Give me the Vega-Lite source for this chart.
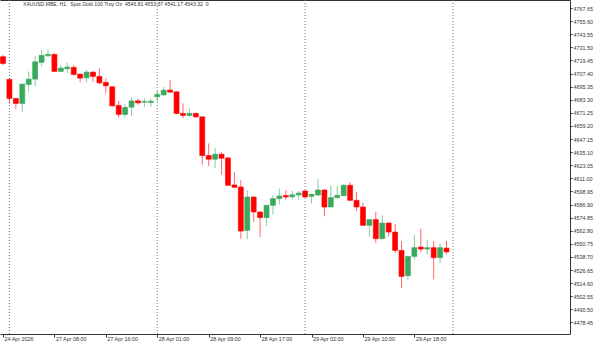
{
  "$schema": "https://vega.github.io/schema/vega-lite/v6.json",
  "width": 570,
  "height": 334,
  "autosize": {"type": "none"},
  "padding": {"left": 0, "top": 0, "right": 30, "bottom": 10},
  "background": "white",
  "config": {
    "view": {"stroke": null},
    "font": "Liberation Sans",
    "axis": {"domainColor": "#333", "tickColor": "#333", "labelColor": "#333", "labelFontSize": 5.4, "grid": false, "title": null, "labelOverlap": false, "labelFlush": false, "labelBound": false}
  },
  "title": {
    "text": "XAUUSD.MBE, H1:\u00a0\u00a0Spot Gold 100 Troy Oz\u00a0\u00a04546.81 4553.37 4541.17 4543.32\u00a0\u00a00",
    "anchor": "start",
    "frame": "group",
    "offset": -8,
    "dx": 23,
    "fontSize": 5.1,
    "fontWeight": "normal",
    "color": "#333",
    "font": "Liberation Sans"
  },
  "datasets": {
    "days": [{"i": 0}, {"i": 23}, {"i": 46}, {"i": 69}],
    "candles": [
      {"i": -1, "t": "24 Apr 23:00", "o": 4722.79, "h": 4724.35, "l": 4715.14, "c": 4716.71},
      {"i": 0, "t": "27 Apr 01:00", "o": 4701.97, "h": 4702.70, "l": 4679.86, "c": 4684.46},
      {"i": 1, "t": "27 Apr 02:00", "o": 4684.46, "h": 4684.74, "l": 4674.61, "c": 4679.86},
      {"i": 2, "t": "27 Apr 03:00", "o": 4679.86, "h": 4698.10, "l": 4672.12, "c": 4697.64},
      {"i": 3, "t": "27 Apr 04:00", "o": 4697.36, "h": 4709.34, "l": 4690.54, "c": 4702.24},
      {"i": 4, "t": "27 Apr 05:00", "o": 4702.24, "h": 4723.43, "l": 4695.79, "c": 4718.18},
      {"i": 5, "t": "27 Apr 06:00", "o": 4717.63, "h": 4728.96, "l": 4714.22, "c": 4724.08},
      {"i": 6, "t": "27 Apr 07:00", "o": 4723.71, "h": 4729.88, "l": 4722.79, "c": 4725.00},
      {"i": 7, "t": "27 Apr 08:00", "o": 4725.00, "h": 4725.73, "l": 4708.69, "c": 4709.34},
      {"i": 8, "t": "27 Apr 09:00", "o": 4709.34, "h": 4715.14, "l": 4708.69, "c": 4712.38},
      {"i": 9, "t": "27 Apr 10:00", "o": 4711.73, "h": 4717.63, "l": 4708.05, "c": 4713.30},
      {"i": 10, "t": "27 Apr 11:00", "o": 4713.02, "h": 4714.86, "l": 4705.28, "c": 4706.57},
      {"i": 11, "t": "27 Apr 12:00", "o": 4706.85, "h": 4707.31, "l": 4699.20, "c": 4703.16},
      {"i": 12, "t": "27 Apr 13:00", "o": 4703.44, "h": 4710.53, "l": 4699.20, "c": 4708.69},
      {"i": 13, "t": "27 Apr 14:00", "o": 4708.69, "h": 4709.34, "l": 4699.75, "c": 4704.73},
      {"i": 14, "t": "27 Apr 15:00", "o": 4704.73, "h": 4712.38, "l": 4697.36, "c": 4698.84},
      {"i": 15, "t": "27 Apr 16:00", "o": 4699.20, "h": 4702.89, "l": 4689.07, "c": 4696.07},
      {"i": 16, "t": "27 Apr 17:00", "o": 4695.15, "h": 4695.79, "l": 4677.10, "c": 4677.65},
      {"i": 17, "t": "27 Apr 18:00", "o": 4678.02, "h": 4682.25, "l": 4666.96, "c": 4669.73},
      {"i": 18, "t": "27 Apr 19:00", "o": 4669.73, "h": 4679.21, "l": 4666.96, "c": 4676.17},
      {"i": 19, "t": "27 Apr 20:00", "o": 4676.45, "h": 4685.94, "l": 4668.16, "c": 4682.25},
      {"i": 20, "t": "27 Apr 21:00", "o": 4682.25, "h": 4684.28, "l": 4678.57, "c": 4680.41},
      {"i": 21, "t": "27 Apr 22:00", "o": 4681.05, "h": 4684.46, "l": 4676.73, "c": 4681.70},
      {"i": 22, "t": "27 Apr 23:00", "o": 4680.78, "h": 4684.46, "l": 4676.73, "c": 4681.98},
      {"i": 23, "t": "28 Apr 01:00", "o": 4685.94, "h": 4691.37, "l": 4681.98, "c": 4688.15},
      {"i": 24, "t": "28 Apr 02:00", "o": 4687.69, "h": 4695.06, "l": 4686.86, "c": 4692.11},
      {"i": 25, "t": "28 Apr 03:00", "o": 4692.11, "h": 4701.32, "l": 4689.62, "c": 4690.27},
      {"i": 26, "t": "28 Apr 04:00", "o": 4690.54, "h": 4691.19, "l": 4670.00, "c": 4670.64},
      {"i": 27, "t": "28 Apr 05:00", "o": 4670.64, "h": 4679.86, "l": 4666.31, "c": 4668.89},
      {"i": 28, "t": "28 Apr 06:00", "o": 4668.80, "h": 4675.25, "l": 4667.70, "c": 4670.73},
      {"i": 29, "t": "28 Apr 07:00", "o": 4670.73, "h": 4671.38, "l": 4666.96, "c": 4667.51},
      {"i": 30, "t": "28 Apr 08:00", "o": 4667.51, "h": 4668.16, "l": 4623.66, "c": 4631.95},
      {"i": 31, "t": "28 Apr 09:00", "o": 4631.95, "h": 4643.01, "l": 4622.37, "c": 4628.54},
      {"i": 32, "t": "28 Apr 10:00", "o": 4628.54, "h": 4639.32, "l": 4620.53, "c": 4633.15},
      {"i": 33, "t": "28 Apr 11:00", "o": 4633.15, "h": 4635.00, "l": 4614.45, "c": 4629.47},
      {"i": 34, "t": "28 Apr 12:00", "o": 4629.74, "h": 4630.39, "l": 4604.13, "c": 4604.59},
      {"i": 35, "t": "28 Apr 13:00", "o": 4604.87, "h": 4616.57, "l": 4602.11, "c": 4602.75},
      {"i": 36, "t": "28 Apr 14:00", "o": 4603.02, "h": 4609.20, "l": 4555.49, "c": 4562.49},
      {"i": 37, "t": "28 Apr 15:00", "o": 4563.14, "h": 4599.99, "l": 4554.85, "c": 4593.81},
      {"i": 38, "t": "28 Apr 16:00", "o": 4593.81, "h": 4594.46, "l": 4570.78, "c": 4580.00},
      {"i": 39, "t": "28 Apr 17:00", "o": 4580.00, "h": 4580.64, "l": 4556.96, "c": 4574.84},
      {"i": 40, "t": "28 Apr 18:00", "o": 4574.84, "h": 4586.63, "l": 4567.10, "c": 4586.17},
      {"i": 41, "t": "28 Apr 19:00", "o": 4586.17, "h": 4595.38, "l": 4577.88, "c": 4592.34},
      {"i": 42, "t": "28 Apr 20:00", "o": 4592.34, "h": 4601.55, "l": 4587.10, "c": 4594.74},
      {"i": 43, "t": "28 Apr 21:00", "o": 4595.11, "h": 4599.99, "l": 4591.41, "c": 4593.81},
      {"i": 44, "t": "28 Apr 22:00", "o": 4594.00, "h": 4599.53, "l": 4591.67, "c": 4595.84},
      {"i": 45, "t": "28 Apr 23:00", "o": 4595.66, "h": 4599.25, "l": 4591.41, "c": 4597.41},
      {"i": 46, "t": "29 Apr 01:00", "o": 4599.34, "h": 4599.99, "l": 4593.26, "c": 4593.81},
      {"i": 47, "t": "29 Apr 02:00", "o": 4594.46, "h": 4596.76, "l": 4587.73, "c": 4596.30},
      {"i": 48, "t": "29 Apr 03:00", "o": 4595.66, "h": 4610.12, "l": 4594.74, "c": 4600.26},
      {"i": 49, "t": "29 Apr 04:00", "o": 4600.26, "h": 4600.91, "l": 4576.03, "c": 4584.60},
      {"i": 50, "t": "29 Apr 05:00", "o": 4584.60, "h": 4604.59, "l": 4584.32, "c": 4593.26},
      {"i": 51, "t": "29 Apr 06:00", "o": 4593.26, "h": 4603.67, "l": 4592.34, "c": 4595.38},
      {"i": 52, "t": "29 Apr 07:00", "o": 4595.11, "h": 4605.51, "l": 4594.46, "c": 4604.59},
      {"i": 53, "t": "29 Apr 08:00", "o": 4604.59, "h": 4607.63, "l": 4590.13, "c": 4590.77},
      {"i": 54, "t": "29 Apr 09:00", "o": 4590.77, "h": 4598.42, "l": 4580.92, "c": 4584.60},
      {"i": 55, "t": "29 Apr 10:00", "o": 4584.60, "h": 4588.66, "l": 4567.28, "c": 4567.74},
      {"i": 56, "t": "29 Apr 11:00", "o": 4567.74, "h": 4573.45, "l": 4557.61, "c": 4572.99},
      {"i": 57, "t": "29 Apr 12:00", "o": 4572.99, "h": 4580.36, "l": 4551.44, "c": 4555.49},
      {"i": 58, "t": "29 Apr 13:00", "o": 4555.49, "h": 4576.96, "l": 4554.85, "c": 4569.86},
      {"i": 59, "t": "29 Apr 14:00", "o": 4569.86, "h": 4570.51, "l": 4557.61, "c": 4561.57},
      {"i": 60, "t": "29 Apr 15:00", "o": 4561.57, "h": 4569.31, "l": 4542.22, "c": 4544.71},
      {"i": 61, "t": "29 Apr 16:00", "o": 4544.71, "h": 4553.28, "l": 4510.35, "c": 4520.76},
      {"i": 62, "t": "29 Apr 17:00", "o": 4521.40, "h": 4539.65, "l": 4517.72, "c": 4539.19},
      {"i": 63, "t": "29 Apr 18:00", "o": 4539.19, "h": 4558.81, "l": 4536.14, "c": 4547.20},
      {"i": 64, "t": "29 Apr 19:00", "o": 4547.75, "h": 4564.70, "l": 4543.15, "c": 4545.91},
      {"i": 65, "t": "29 Apr 20:00", "o": 4545.91, "h": 4554.57, "l": 4541.03, "c": 4547.20},
      {"i": 66, "t": "29 Apr 21:00", "o": 4547.20, "h": 4553.28, "l": 4518.00, "c": 4537.99},
      {"i": 67, "t": "29 Apr 22:00", "o": 4537.99, "h": 4550.88, "l": 4533.01, "c": 4547.20},
      {"i": 68, "t": "29 Apr 23:00", "o": 4546.81, "h": 4553.37, "l": 4541.17, "c": 4543.32}
    ]
  },
  "layer": [
    {
      "data": {"name": "days"},
      "mark": {"type": "rule", "strokeDash": [1, 2], "color": "#777", "strokeWidth": 1},
      "encoding": {
        "x": {"field": "i", "type": "quantitative", "scale": {"domain": [-0.688, 86.43], "nice": false, "zero": false},
          "axis": {"orient": "top", "labels": false, "ticks": false, "domainColor": "#333"}}
      }
    },
    {
      "data": {"name": "candles"},
      "mark": {"type": "rule", "strokeWidth": 1, "opacity": 0.6},
      "encoding": {
        "x": {"field": "i", "type": "quantitative", "scale": {"domain": [-0.688, 86.43], "nice": false, "zero": false},
          "axis": {"orient": "bottom", "values": [-1, 7, 15, 23, 31, 39, 47, 55, 63], "tickSize": 3, "labelAlign": "left", "labelBaseline": "top", "labelPadding": -1, "labelOffset": 1, "labelFlush": false, "labelOverlap": false,
            "labelExpr": "['24 Apr 2026','27 Apr 08:00','27 Apr 16:00','28 Apr 01:00','28 Apr 09:00','28 Apr 17:00','29 Apr 02:00','29 Apr 10:00','29 Apr 18:00'][(datum.value + 1) / 8]"}},
        "y": {"field": "l", "type": "quantitative", "scale": {"domain": [4467.79, 4775.02], "nice": false, "zero": false},
          "axis": {"orient": "right", "values": [4478.45, 4490.5, 4502.55, 4514.6, 4526.65, 4538.7, 4550.75, 4562.8, 4574.85, 4586.9, 4598.95, 4611, 4623.05, 4635.1, 4647.15, 4659.2, 4671.25, 4683.3, 4695.35, 4707.4, 4719.45, 4731.5, 4743.55, 4755.6, 4767.65], "format": ".2f", "tickSize": 2, "labelPadding": 1, "labelOverlap": false, "labelFlush": false}},
        "y2": {"field": "h"},
        "color": {"condition": {"test": "datum.c < datum.o", "value": "#ff0000"}, "value": "#3aa95e"}
      }
    },
    {
      "data": {"name": "candles"},
      "mark": {"type": "bar", "size": 5, "strokeWidth": 0.6},
      "encoding": {
        "x": {"field": "i", "type": "quantitative", "scale": {"domain": [-0.688, 86.43], "nice": false, "zero": false}, "axis": null},
        "y": {"field": "o", "type": "quantitative", "scale": {"domain": [4467.79, 4775.02], "nice": false, "zero": false},
          "axis": {"orient": "right", "values": [4478.45, 4490.5, 4502.55, 4514.6, 4526.65, 4538.7, 4550.75, 4562.8, 4574.85, 4586.9, 4598.95, 4611, 4623.05, 4635.1, 4647.15, 4659.2, 4671.25, 4683.3, 4695.35, 4707.4, 4719.45, 4731.5, 4743.55, 4755.6, 4767.65], "format": ".2f", "tickSize": 2, "labelPadding": 1, "labelOverlap": false, "labelFlush": false}},
        "y2": {"field": "c"},
        "color": {"condition": {"test": "datum.c < datum.o", "value": "#ff0000"}, "value": "#3aa95e"},
        "stroke": {"condition": {"test": "datum.c < datum.o", "value": "#ff0000"}, "value": "#3aa95e"}
      }
    }
  ],
  "resolve": {"axis": {"x": "independent"}}
}
